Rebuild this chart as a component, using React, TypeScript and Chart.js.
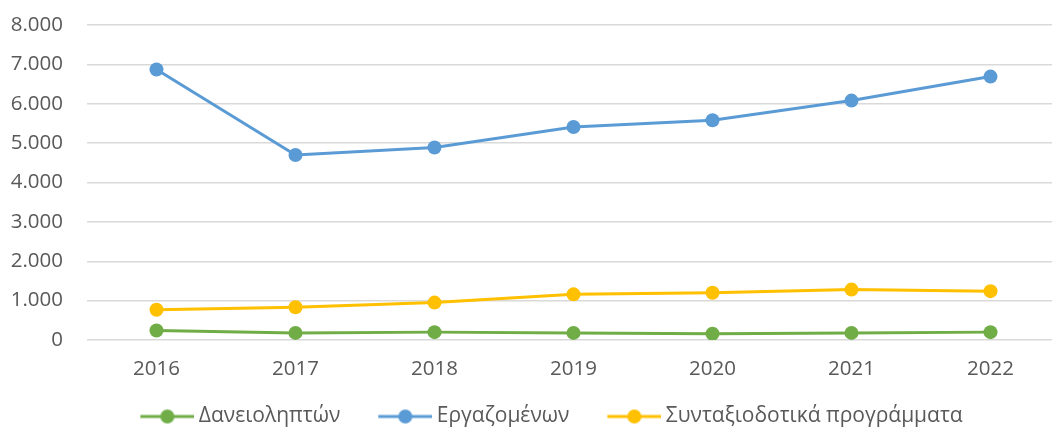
import React, { useEffect, useRef } from "react";
import { Chart, registerables } from "chart.js";

Chart.register(...registerables);

const years = ["2016", "2017", "2018", "2019", "2020", "2021", "2022"];
const borrowers = [240, 180, 200, 180, 160, 180, 200];
const employees = [6870, 4700, 4890, 5410, 5580, 6080, 6690];
const pensionPlans = [770, 830, 950, 1160, 1200, 1280, 1240];
const yTicks = [0, 1000, 2000, 3000, 4000, 5000, 6000, 7000, 8000];

const seriesNames = ["Δανειοληπτών", "Εργαζομένων", "Συνταξιοδοτικά προγράμματα"];
const seriesColors = ["#70AD47", "#5B9BD5", "#FFC000"];

const FONT = "'Open Sans', sans-serif";
const TEXT = "#595959";
const ICON_W = 54;
const ITEM_GAP = 34;
const ICON_TOTAL = ITEM_GAP + ICON_W;

function legendIcon(color: string): HTMLCanvasElement {
  const c = document.createElement("canvas");
  c.width = ICON_TOTAL;
  c.height = 16;
  const ctx = c.getContext("2d")!;
  ctx.strokeStyle = color;
  ctx.lineWidth = 3;
  ctx.beginPath();
  ctx.moveTo(ITEM_GAP, 8);
  ctx.lineTo(ITEM_GAP + ICON_W, 8);
  ctx.stroke();
  ctx.fillStyle = color;
  ctx.beginPath();
  ctx.arc(ITEM_GAP + ICON_W / 2, 8, 7, 0, Math.PI * 2);
  ctx.fill();
  return c;
}

function fmt(v: number): string {
  return String(v).replace(/\B(?=(\d{3})+(?!\d))/g, ".");
}

export default function App() {
  const ref = useRef<HTMLCanvasElement | null>(null);
  useEffect(() => {
    if (!ref.current) return;
    const data = [borrowers, employees, pensionPlans];
    const icons = seriesColors.map((c) => legendIcon(c));
    const chart = new Chart(ref.current, {
      type: "line",
      data: {
        labels: years,
        datasets: data.map((d, i) => ({
          label: seriesNames[i],
          data: d,
          borderColor: seriesColors[i],
          backgroundColor: seriesColors[i],
          borderWidth: 3,
          pointRadius: 7,
          pointHoverRadius: 7,
          pointBorderWidth: 0,
          tension: 0,
          fill: false,
        })),
      },
      options: {
        animation: false,
        responsive: false,
        maintainAspectRatio: false,
        layout: { padding: { top: 25, left: 0, right: -8, bottom: 0 } },
        plugins: {
          tooltip: { enabled: false },
          legend: {
            position: "bottom",
            labels: {
              usePointStyle: true,
              pointStyleWidth: ICON_TOTAL - 12,
              color: TEXT,
              font: { family: FONT, size: 21 },
              padding: 10,
              boxHeight: 16,
              generateLabels: (ch: any) =>
                ch.data.datasets.map((ds: any, i: number) => ({
                  text: ds.label,
                  fillStyle: seriesColors[i],
                  strokeStyle: seriesColors[i],
                  pointStyle: icons[i],
                  datasetIndex: i,
                  hidden: false,
                  fontColor: TEXT,
                })),
            },
          },
        },
        scales: {
          x: {
            type: "category",
            offset: true,
            grid: { display: false },
            border: { display: false },
            afterFit: (s: any) => {
              s.height = 56;
              s.paddingLeft = 0;
              s.paddingRight = 0;
            },
            ticks: { color: TEXT, font: { family: FONT, size: 20.5 }, padding: 9 },
          },
          y: {
            min: 0,
            max: 8000,
            afterBuildTicks: (s: any) => {
              s.ticks = yTicks.map((v) => ({ value: v }));
            },
            afterFit: (s: any) => {
              s.width = 87;
              s.paddingTop = 0;
            },
            grid: { color: "#D9D9D9", lineWidth: 1.5, drawTicks: false },
            border: { display: false },
            ticks: {
              color: TEXT,
              font: { family: FONT, size: 20.5 },
              padding: 24,
              callback: (v: any) => fmt(Number(v)),
            },
          },
        },
      },
    });
    return () => chart.destroy();
  }, []);
  return (
    <div style={{ position: "absolute", left: 0, top: 0, width: 1052, height: 430, overflow: "hidden", background: "#fff" }}>
      <canvas ref={ref} width={1067} height={437} style={{ display: "block" }} />
    </div>
  );
}
